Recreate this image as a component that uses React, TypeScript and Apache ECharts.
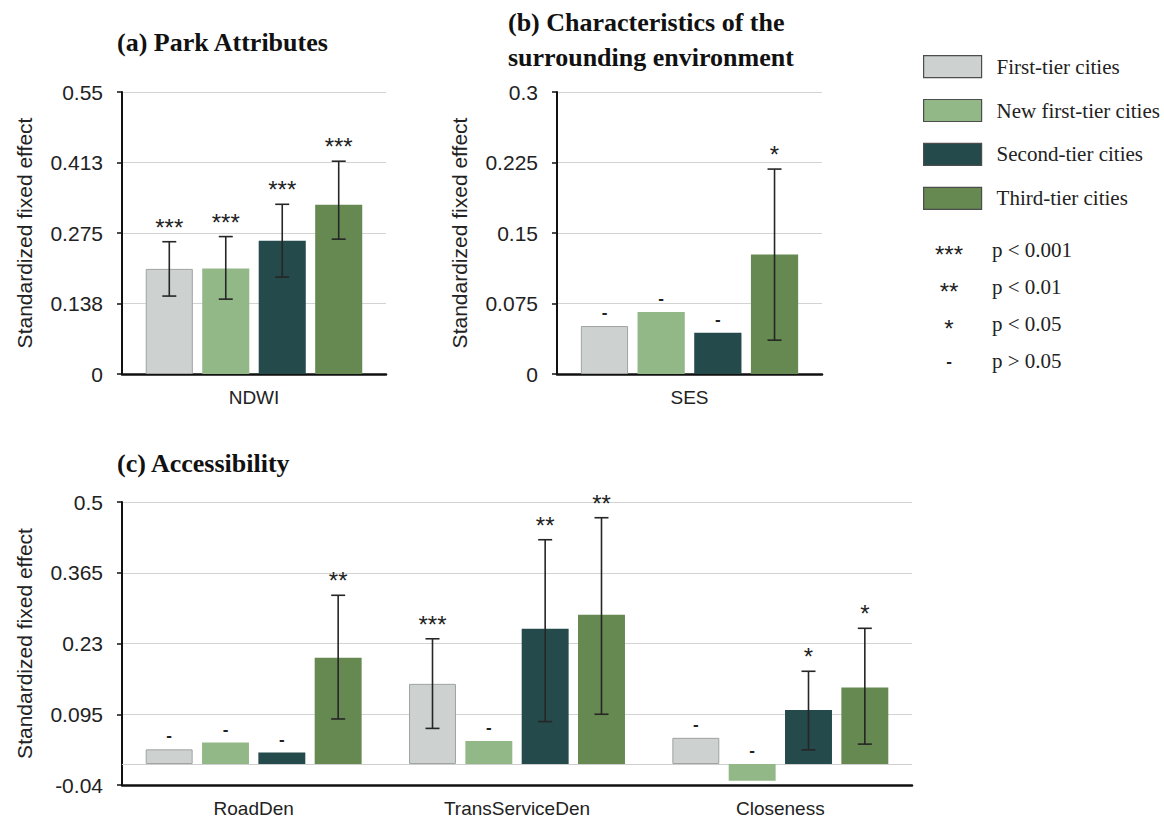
import React, { useEffect, useRef } from "react";
import * as echarts from "echarts";

// ---------- data ----------
const tiers = ["First-tier cities", "New first-tier cities", "Second-tier cities", "Third-tier cities"];

// (a) Park attributes  [tier][category]
const parkCategories = ["NDWI"];
const parkValues = [[0.205], [0.206], [0.26], [0.33]];
const parkLow = [[0.152], [0.146], [0.189], [0.263]];
const parkHigh = [[0.258], [0.268], [0.331], [0.415]];
const parkSig = [["***"], ["***"], ["***"], ["***"]];
const parkTicks = [0, 0.1375, 0.275, 0.4125, 0.55];
const parkTickLabels = ["0", "0.138", "0.275", "0.413", "0.55"];

// (b) Surrounding environment
const envCategories = ["SES"];
const envValues = [[0.051], [0.066], [0.044], [0.127]];
const envLow = [[null], [null], [null], [0.036]];
const envHigh = [[null], [null], [null], [0.218]];
const envSig = [["-"], ["-"], ["-"], ["*"]];
const envTicks = [0, 0.075, 0.15, 0.225, 0.3];
const envTickLabels = ["0", "0.075", "0.15", "0.225", "0.3"];

// (c) Accessibility
const accCategories = ["RoadDen", "TransServiceDen", "Closeness"];
const accValues = [
  [0.028, 0.153, 0.05],
  [0.041, 0.044, -0.032],
  [0.022, 0.258, 0.103],
  [0.203, 0.285, 0.146],
];
const accLow = [
  [null, 0.068, null],
  [null, null, null],
  [null, 0.081, 0.027],
  [0.086, 0.095, 0.038],
];
const accHigh = [
  [null, 0.239, null],
  [null, null, null],
  [null, 0.428, 0.177],
  [0.322, 0.47, 0.259],
];
const accSig = [
  ["-", "***", "-"],
  ["-", "-", "-"],
  ["-", "**", "*"],
  ["**", "**", "*"],
];
const accTicks = [-0.04, 0.095, 0.23, 0.365, 0.5];
const accTickLabels = ["-0.04", "0.095", "0.23", "0.365", "0.5"];

const sigMarks = ["***", "**", "*", "-"];
const sigTexts = ["p < 0.001", "p < 0.01", "p < 0.05", "p > 0.05"];

const titles = ["(a) Park Attributes", "(b) Characteristics of the\nsurrounding environment", "(c) Accessibility"];
const yAxisName = "Standardized fixed effect";

// ---------- styles ----------
const SANS = "'Liberation Sans', Arial, Helvetica, sans-serif";
const SERIF = "'Liberation Serif', 'Times New Roman', serif";
const tierColors = ["#CDD1D0", "#93B887", "#244A4B", "#658950"];
const tierBorders = ["#9FA2A1", "#93B887", "#244A4B", "#658950"];
const CAT_GAP = 0.18;
const BAR_GAP = 0.2;
const STAR_SIZE = 24;
const DASH_SIZE = 17;

const panels = [
  { grid: { left: 122, top: 92, width: 264, height: 282 }, cats: parkCategories, values: parkValues, low: parkLow, high: parkHigh, sig: parkSig, ticks: parkTicks, tickLabels: parkTickLabels },
  { grid: { left: 557, top: 92, width: 265, height: 282 }, cats: envCategories, values: envValues, low: envLow, high: envHigh, sig: envSig, ticks: envTicks, tickLabels: envTickLabels },
  { grid: { left: 122, top: 502, width: 790, height: 283 }, cats: accCategories, values: accValues, low: accLow, high: accHigh, sig: accSig, ticks: accTicks, tickLabels: accTickLabels },
];

function buildOption() {
  const series: any[] = [];
  panels.forEach((p, pi) => {
    tiers.forEach((t, ti) => {
      const s: any = {
        type: "bar",
        name: t,
        xAxisIndex: pi,
        yAxisIndex: pi,
        data: p.values[ti],
        barCategoryGap: CAT_GAP * 100 + "%",
        barGap: BAR_GAP * 100 + "%",
        itemStyle: { color: tierColors[ti], borderColor: tierBorders[ti], borderWidth: ti === 0 ? 1 : 0 },
        z: 2,
      };
      if (pi === 2 && ti === 0) {
        s.markLine = {
          silent: true,
          symbol: "none",
          label: { show: false },
          lineStyle: { color: "#cfcfcf", width: 1.2, type: "solid" },
          data: [{ yAxis: 0 }],
          z: 1,
        };
      }
      series.push(s);
    });
    const meta: any[] = [];
    const data: any[] = [];
    p.cats.forEach((c, ci) => {
      tiers.forEach((t, ti) => {
        meta.push({ cat: ci, tier: ti, value: p.values[ti][ci], low: p.low[ti][ci], high: p.high[ti][ci], sig: p.sig[ti][ci] });
        data.push([ci, p.values[ti][ci]]);
      });
    });
    series.push({
      type: "custom",
      xAxisIndex: pi,
      yAxisIndex: pi,
      z: 5,
      silent: true,
      encode: { x: 0, y: 1 },
      data,
      renderItem: (params: any, api: any) => {
        const m = meta[params.dataIndex];
        const cx = api.coord([m.cat, 0])[0];
        const band = api.size([1, 0])[0];
        const span = band * (1 - CAT_GAP);
        const bw = span / (4 + 3 * BAR_GAP);
        const x = cx - span / 2 + m.tier * bw * (1 + BAR_GAP) + bw / 2;
        const children: any[] = [];
        let anchor = Math.max(m.value, 0);
        if (m.low != null && m.high != null) {
          const y1 = api.coord([m.cat, m.low])[1];
          const y2 = api.coord([m.cat, m.high])[1];
          const st = { stroke: "#262626", lineWidth: 1.6 };
          children.push({ type: "line", shape: { x1: x, y1, x2: x, y2 }, style: st });
          children.push({ type: "line", shape: { x1: x - 7, y1, x2: x + 7, y2: y1 }, style: st });
          children.push({ type: "line", shape: { x1: x - 7, y1: y2, x2: x + 7, y2 }, style: st });
          anchor = Math.max(anchor, m.high);
        }
        const ay = api.coord([m.cat, anchor])[1];
        const dash = m.sig === "-";
        children.push({
          type: "text",
          style: {
            text: m.sig,
            x,
            y: ay - (dash ? 13.5 : 14.5),
            align: "center",
            verticalAlign: "middle",
            textAlign: "center",
            textVerticalAlign: "middle",
            fontSize: dash ? DASH_SIZE : STAR_SIZE,
            fontWeight: dash ? "bold" : "normal",
            fontFamily: SANS,
            fill: "#222",
          },
        });
        return { type: "group", children };
      },
    });
  });

  const graphic: any[] = [];
  const rowY = [250, 287, 324, 361];
  sigMarks.forEach((m, i) => {
    const dash = m === "-";
    graphic.push({
      type: "text",
      x: 949,
      y: rowY[i] + (dash ? 0 : 4),
      style: {
        text: m,
        align: "center",
        verticalAlign: "middle",
        textAlign: "center",
        textVerticalAlign: "middle",
        fontSize: dash ? DASH_SIZE : STAR_SIZE,
        fontWeight: dash ? "bold" : "normal",
        fontFamily: SANS,
        fill: "#222",
      },
    });
    graphic.push({
      type: "text",
      x: 992,
      y: rowY[i],
      style: {
        text: sigTexts[i],
        align: "left",
        verticalAlign: "middle",
        textAlign: "left",
        textVerticalAlign: "middle",
        fontSize: 21,
        fontFamily: SERIF,
        fill: "#222",
      },
    });
  });

  return {
    animation: false,
    backgroundColor: "#ffffff",
    textStyle: { fontFamily: SANS },
    title: [
      { text: titles[0], left: 117, top: 25, padding: 0, textStyle: { fontFamily: SERIF, fontWeight: "bold", fontSize: 26, lineHeight: 34, color: "#111" } },
      { text: titles[1], left: 508, top: 5, padding: 0, textStyle: { fontFamily: SERIF, fontWeight: "bold", fontSize: 26, lineHeight: 35, color: "#111" } },
      { text: titles[2], left: 117, top: 446, padding: 0, textStyle: { fontFamily: SERIF, fontWeight: "bold", fontSize: 26, lineHeight: 34, color: "#111" } },
    ],
    legend: {
      orient: "vertical",
      left: 923,
      top: 55,
      padding: 0,
      itemWidth: 58,
      itemHeight: 22,
      itemGap: 20.7,
      icon: "rect",
      selectedMode: false,
      data: tiers,
      itemStyle: { borderColor: "#4d4d4d", borderWidth: 1.2 },
      textStyle: { fontFamily: SERIF, fontSize: 21, color: "#222", padding: [0, 0, 0, 10] },
    },
    grid: panels.map((p) => ({ ...p.grid, containLabel: false })),
    xAxis: panels.map((p, i) => ({
      type: "category",
      gridIndex: i,
      data: p.cats,
      axisTick: { show: false },
      axisLine: { show: true, onZero: false, lineStyle: { color: "#111", width: 2.5 } },
      axisLabel: { fontSize: 19, color: "#222", margin: 14, fontFamily: SANS },
      splitLine: { show: false },
    })),
    yAxis: panels.map((p, i) => ({
      type: "value",
      gridIndex: i,
      min: p.ticks[0],
      max: p.ticks[p.ticks.length - 1],
      name: yAxisName,
      nameLocation: "middle",
      nameGap: 87,
      nameTextStyle: { fontSize: 21, color: "#222", fontFamily: SANS },
      axisLine: { show: true, lineStyle: { color: "#111", width: 2 } },
      axisTick: { show: true, length: 5, customValues: p.ticks, lineStyle: { color: "#111", width: 1.5 } },
      axisLabel: {
        customValues: p.ticks,
        fontSize: 21,
        color: "#222",
        margin: 19,
        fontFamily: SANS,
        formatter: (v: number) => {
          let best = 0;
          p.ticks.forEach((t, k) => {
            if (Math.abs(t - v) < Math.abs(p.ticks[best] - v)) best = k;
          });
          return p.tickLabels[best];
        },
      },
      splitLine: { show: true, lineStyle: { color: "#d3d3d3", width: 1.2 } },
    })),
    series,
    graphic,
  };
}

export default function App() {
  const ref = useRef<HTMLDivElement>(null);
  useEffect(() => {
    if (!ref.current) return;
    const chart = echarts.init(ref.current, undefined, { renderer: "svg" });
    chart.setOption(buildOption() as any);
    return () => chart.dispose();
  }, []);
  return <div ref={ref} style={{ position: "absolute", left: 0, top: 0, width: 1164, height: 820, background: "#fff" }} />;
}
